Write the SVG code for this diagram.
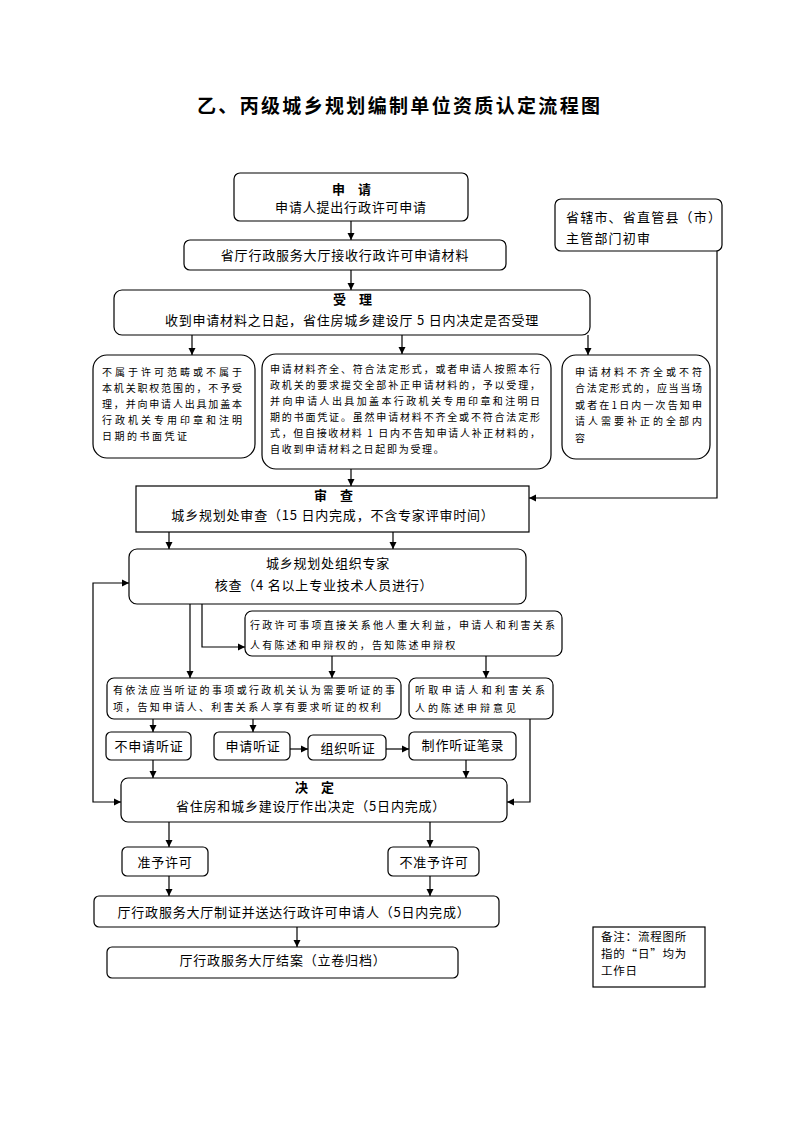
<svg xmlns="http://www.w3.org/2000/svg" width="794" height="1123" viewBox="0 0 794 1123">
<style>
.b{fill:#fff;stroke:#000;stroke-width:1.2}
.t{font-family:"Noto Sans CJK SC","Liberation Sans",sans-serif;font-size:13px;fill:#000;letter-spacing:0.8px}
.h{font-weight:bold;letter-spacing:5px}
.m{text-anchor:middle}
.s{font-family:"Noto Sans CJK SC","Liberation Sans",sans-serif;font-size:10px;fill:#000}
.n{font-family:"Noto Sans CJK SC","Liberation Sans",sans-serif;font-size:11.5px;fill:#000;letter-spacing:0.8px}
.c{fill:none;stroke:#000;stroke-width:1.2;marker-end:url(#a)}
</style>
<defs>
<marker id="a" markerWidth="8" markerHeight="8" refX="7" refY="4" orient="auto" markerUnits="userSpaceOnUse"><path d="M0,0.5 L7,4 L0,7.5 z" fill="#000"/></marker>
</defs>
<rect width="794" height="1123" fill="#fff"/>
<text x="197" y="113" textLength="403" lengthAdjust="spacing" style="font-family:'Noto Sans CJK SC',sans-serif;font-size:19px;font-weight:bold">乙、丙级城乡规划编制单位资质认定流程图</text>

<g id="n1"><rect class="b" x="234" y="173" width="234" height="48" rx="6"/><text class="t h m" x="354" y="194">申 请</text><text class="t m" x="351" y="212">申请人提出行政许可申请</text></g>
<g id="n2"><rect class="b" x="184" y="240" width="322" height="30" rx="6"/><text class="t m" x="345" y="260">省厅行政服务大厅接收行政许可申请材料</text></g>
<g id="n3"><rect class="b" x="114" y="290" width="476" height="45" rx="8"/><text class="t h m" x="355" y="304">受 理</text><text class="t m" x="352" y="325">收到申请材料之日起，省住房城乡建设厅 5 日内决定是否受理</text></g>
<g id="n4"><rect class="b" x="555" y="199" width="167" height="52" rx="6"/><text class="t" x="566" y="222" style="letter-spacing:1.2px">省辖市、省直管县（市）</text><text class="t" x="566" y="243" style="letter-spacing:1.2px">主管部门初审</text></g>
<g id="n5"><rect class="b" x="93" y="355" width="162" height="103" rx="14"/>
<text class="s" x="102" y="376" textLength="140" lengthAdjust="spacing">不属于许可范畴或不属于</text>
<text class="s" x="102" y="392" textLength="140" lengthAdjust="spacing">本机关职权范围的，不予受</text>
<text class="s" x="102" y="408" textLength="140" lengthAdjust="spacing">理，并向申请人出具加盖本</text>
<text class="s" x="102" y="424" textLength="140" lengthAdjust="spacing">行政机关专用印章和注明</text>
<text class="s" x="102" y="440" letter-spacing="2.5">日期的书面凭证</text></g>
<g id="n6"><rect class="b" x="262" y="354" width="289" height="115" rx="14"/>
<text class="s" x="270" y="373" textLength="270" lengthAdjust="spacing">申请材料齐全、符合法定形式，或者申请人按照本行</text>
<text class="s" x="270" y="389" textLength="270" lengthAdjust="spacing">政机关的要求提交全部补正申请材料的，予以受理，</text>
<text class="s" x="270" y="405" textLength="270" lengthAdjust="spacing">并向申请人出具加盖本行政机关专用印章和注明日</text>
<text class="s" x="270" y="421" textLength="270" lengthAdjust="spacing">期的书面凭证。虽然申请材料不齐全或不符合法定形</text>
<text class="s" x="270" y="437" textLength="270" lengthAdjust="spacing">式，但自接收材料 1 日内不告知申请人补正材料的，</text>
<text class="s" x="270" y="453" letter-spacing="1.7">自收到申请材料之日起即为受理。</text></g>
<g id="n7"><rect class="b" x="562" y="355" width="148" height="104" rx="14"/>
<text class="s" x="575" y="376" textLength="127" lengthAdjust="spacing">申请材料不齐全或不符</text>
<text class="s" x="575" y="392" textLength="127" lengthAdjust="spacing">合法定形式的，应当当场</text>
<text class="s" x="575" y="409" textLength="127" lengthAdjust="spacing">或者在1日内一次告知申</text>
<text class="s" x="575" y="425" textLength="127" lengthAdjust="spacing">请人需要补正的全部内</text>
<text class="s" x="575" y="442">容</text></g>
<g id="n8"><rect class="b" x="136" y="486" width="393" height="46"/><text class="t h m" x="336" y="500">审 查</text><text class="t m" x="333" y="520">城乡规划处审查（15 日内完成，不含专家评审时间）</text></g>
<g id="n9"><rect class="b" x="129" y="549" width="397" height="55" rx="8"/><text class="t m" x="328" y="568">城乡规划处组织专家</text><text class="t m" x="324" y="590">核查（4 名以上专业技术人员进行）</text></g>
<g id="n10"><rect class="b" x="245" y="611" width="317" height="45" rx="7"/>
<text class="s" x="250" y="629" textLength="305" lengthAdjust="spacing">行政许可事项直接关系他人重大利益，申请人和利害关系</text>
<text class="s" x="250" y="649" letter-spacing="2.2">人有陈述和申辩权的，告知陈述申辩权</text></g>
<g id="n11"><rect class="b" x="107" y="678" width="294" height="41" rx="7"/>
<text class="s" x="113" y="694" textLength="282" lengthAdjust="spacing">有依法应当听证的事项或行政机关认为需要听证的事</text>
<text class="s" x="113" y="711" textLength="268" lengthAdjust="spacing">项，告知申请人、利害关系人享有要求听证的权利</text></g>
<g id="n12"><rect class="b" x="409" y="678" width="144" height="41" rx="7"/>
<text class="s" x="415" y="694" textLength="130" lengthAdjust="spacing">听取申请人和利害关系</text>
<text class="s" x="415" y="712" letter-spacing="3">人的陈述申辩意见</text></g>
<g id="n13"><rect class="b" x="106" y="732" width="85" height="28" rx="5"/><text class="t m" x="149" y="751">不申请听证</text></g>
<g id="n14"><rect class="b" x="214" y="732" width="76" height="28" rx="5"/><text class="t m" x="253" y="751">申请听证</text></g>
<g id="n15"><rect class="b" x="308" y="735" width="78" height="25" rx="5"/><text class="t m" x="348" y="753">组织听证</text></g>
<g id="n16"><rect class="b" x="409" y="732" width="107" height="28" rx="5"/><text class="t m" x="463" y="750">制作听证笔录</text></g>
<g id="n17"><rect class="b" x="121" y="778" width="386" height="44" rx="7"/><text class="t h m" x="317" y="792">决 定</text><text class="t m" x="311" y="811">省住房和城乡建设厅作出决定（5日内完成）</text></g>
<g id="n18"><rect class="b" x="122" y="847" width="86" height="29" rx="5"/><text class="t m" x="165" y="867">准予许可</text></g>
<g id="n19"><rect class="b" x="388" y="847" width="91" height="29" rx="5"/><text class="t m" x="434" y="867">不准予许可</text></g>
<g id="n20"><rect class="b" x="94" y="896" width="405" height="31" rx="5"/><text class="t m" x="294" y="917">厅行政服务大厅制证并送达行政许可申请人（5日内完成）</text></g>
<g id="n21"><rect class="b" x="107" y="947" width="351" height="31" rx="5"/><text class="t m" x="283" y="965">厅行政服务大厅结案（立卷归档）</text></g>
<g id="n22"><rect class="b" x="593" y="927" width="112" height="60"/><text class="n" x="601" y="941">备注：流程图所</text><text class="n" x="601" y="958">指的“日”均为</text><text class="n" x="601" y="975">工作日</text></g>

<g id="connectors">
<path class="c" d="M351,221 V240"/>
<path class="c" d="M351,270 V290"/>
<path class="c" d="M192,335 V355"/>
<path class="c" d="M402,335 V354"/>
<path class="c" d="M588,335 V355"/>
<path class="c" d="M717,251 V498 H529"/>
<path class="c" d="M351,469 V486"/>
<path class="c" d="M169,532 V549"/>
<path class="c" d="M393,532 V549"/>
<path class="c" d="M93,690 V583 H129"/>
<path class="c" d="M93,690 V802 H121"/>
<path class="c" d="M190,604 V678"/>
<path class="c" d="M202,604 V647 H245"/>
<path class="c" d="M332,656 V678"/>
<path class="c" d="M486,656 V678"/>
<path class="c" d="M153,719 V732"/>
<path class="c" d="M253,719 V732"/>
<path class="c" d="M290,749 H308"/>
<path class="c" d="M386,749 H409"/>
<path class="c" d="M530,719 V802 H507"/>
<path class="c" d="M153,760 V778"/>
<path class="c" d="M466,760 V778"/>
<path class="c" d="M169,822 V847"/>
<path class="c" d="M430,822 V847"/>
<path class="c" d="M169,876 V896"/>
<path class="c" d="M430,876 V896"/>
<path class="c" d="M297,927 V947"/>
</g>
</svg>
